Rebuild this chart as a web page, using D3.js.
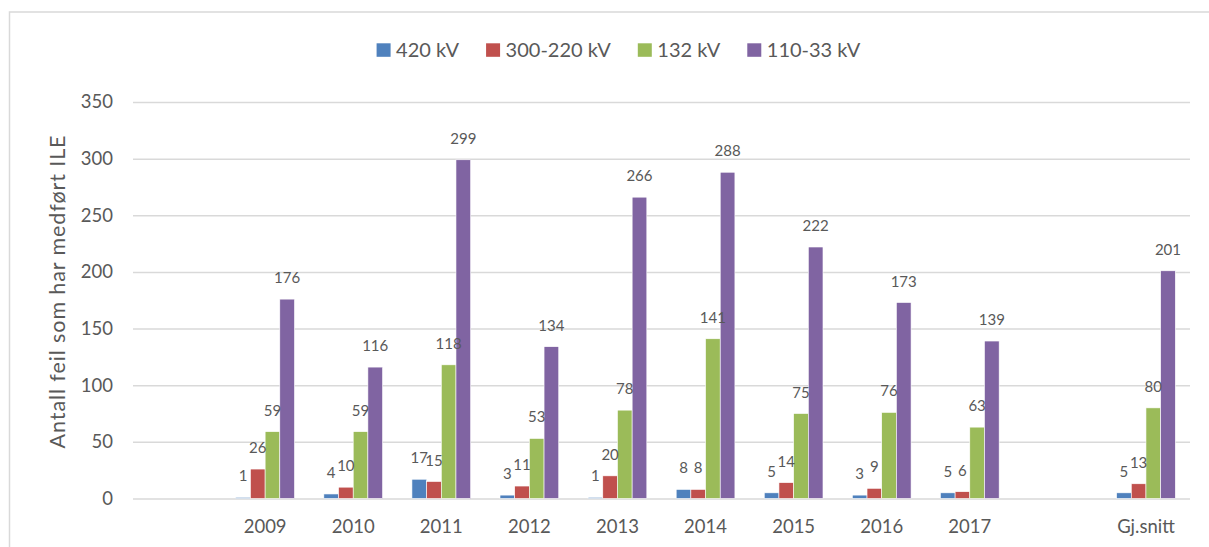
<!DOCTYPE html>
<html>
<head>
<meta charset="utf-8">
<script src="https://cdn.jsdelivr.net/npm/d3@7"></script>
<style>
  body { margin: 0; background: #fff; }
  text { font-family: Lato, "Noto Sans", sans-serif; fill: #595959; }
</style>
</head>
<body>
<svg id="chart" width="1209" height="547"></svg>
<script>
// categories (blank slots are empty categories in the original chart)
const categories = ["", "2009", "2010", "2011", "2012", "2013", "2014", "2015", "2016", "2017", " ", "Gj.snitt"];
const seriesNames = ["420 kV", "300-220 kV", "132 kV", "110-33 kV"];
const colors = ["#4F81BD", "#C0504D", "#9BBB59", "#8064A2"];

const kv420  = [null, 1, 4, 17, 3, 1, 8, 5, 3, 5, null, 5];
const kv300  = [null, 26, 10, 15, 11, 20, 8, 14, 9, 6, null, 13];
const kv132  = [null, 59, 59, 118, 53, 78, 141, 75, 76, 63, null, 80];
const kv110  = [null, 176, 116, 299, 134, 266, 288, 222, 173, 139, null, 201];
const yTicks = [0, 50, 100, 150, 200, 250, 300, 350];

const seriesValues = [kv420, kv300, kv132, kv110];

const svg = d3.select("#chart"),
      width = +svg.attr("width"),
      height = +svg.attr("height"),
      margin = {top: 102, right: 19, bottom: 48.5, left: 133};

// chart frame
svg.append("rect")
    .attr("x", 9.5)
    .attr("y", 12)
    .attr("width", width + 20)
    .attr("height", height + 20)
    .attr("fill", "none")
    .attr("stroke", "#d9d9d9")
    .attr("stroke-width", 1.5);

const x = d3.scaleBand().domain(categories).range([margin.left, width - margin.right]);
const xInner = d3.scaleBand().domain(seriesNames).range([0, x.bandwidth()]).paddingInner(0).paddingOuter(1);
const y = d3.scaleLinear().domain([0, 350]).range([height - margin.bottom, margin.top]);

// gridlines + y ticks
const yAxis = d3.axisLeft(y)
    .tickValues(yTicks)
    .tickSize(-(width - margin.right - margin.left))
    .tickPadding(20);

const gy = svg.append("g")
    .attr("transform", `translate(${margin.left},0)`)
    .call(yAxis);
gy.select(".domain").remove();
gy.selectAll(".tick line").attr("stroke", "#d9d9d9").attr("stroke-width", 1.5);
gy.selectAll(".tick text").style("font-size", "18.5px").attr("fill", "#595959");

// x labels
const xAxis = d3.axisBottom(x).tickSize(0).tickPadding(21);
const gx = svg.append("g")
    .attr("transform", `translate(0,${y(0)})`)
    .call(xAxis);
gx.select(".domain").remove();
gx.selectAll(".tick text").style("font-size", "18.5px").attr("fill", "#595959");

// bars first, labels on top
const barData = seriesValues.map((vals, si) =>
    categories.map((c, i) => ({cat: c, v: vals[i], s: seriesNames[si], color: colors[si]}))
        .filter(d => d.v !== null));

barData.forEach(data => {
    svg.append("g").selectAll("rect")
        .data(data)
        .join("rect")
        .attr("x", d => x(d.cat) + xInner(d.s))
        .attr("y", d => y(d.v))
        .attr("width", xInner.bandwidth())
        .attr("height", d => y(0) - y(d.v))
        .attr("fill", d => d.color)
        .attr("stroke", "#fff")
        .attr("stroke-width", 0.6);
});

barData.forEach(data => {
    svg.append("g").selectAll("text")
        .data(data)
        .join("text")
        .attr("x", d => x(d.cat) + xInner(d.s) + xInner.bandwidth() / 2)
        .attr("y", d => y(d.v) - 16)
        .attr("text-anchor", "middle")
        .style("font-size", "15px")
        .attr("fill", "#404040")
        .text(d => d.v);
});

// y axis title
svg.append("text")
    .attr("transform", "rotate(-90)")
    .attr("x", -291.5)
    .attr("y", 65)
    .attr("text-anchor", "middle")
    .style("font-size", "21.5px")
    .style("letter-spacing", "0.9px")
    .text("Antall feil som har medført ILE");

// legend, laid out from text widths and centred
const legend = svg.append("g");
let lx = 0;
seriesNames.forEach((name, i) => {
    legend.append("rect")
        .attr("x", lx)
        .attr("y", 43.3)
        .attr("width", 14)
        .attr("height", 13.5)
        .attr("fill", colors[i]);
    const t = legend.append("text")
        .attr("x", lx + 19.5)
        .attr("y", 57)
        .style("font-size", "20px")
        .text(name);
    lx += 19.5 + t.node().getComputedTextLength() + 27;
});
lx -= 27;
legend.attr("transform", `translate(${618.5 - lx / 2},0)`);
</script>
</body>
</html>
